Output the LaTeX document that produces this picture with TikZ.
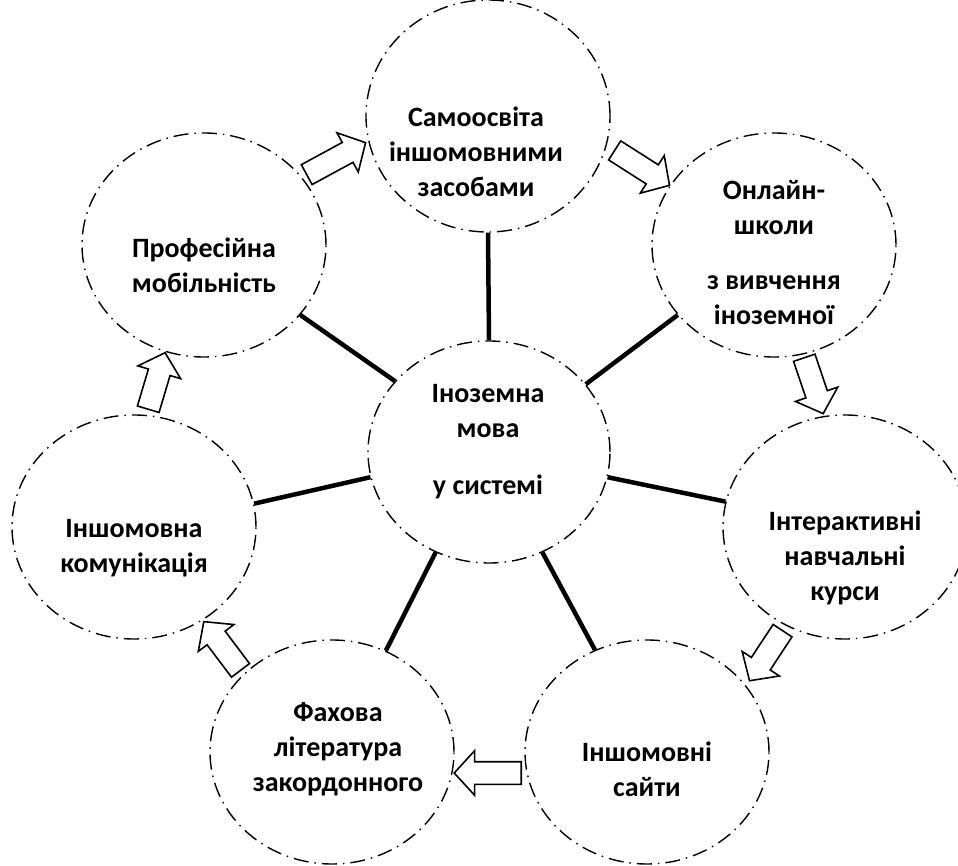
\documentclass[tikz,border=0pt]{standalone}
\usepackage{fontspec}
\setmainfont{Carlito}
\usetikzlibrary{shapes.geometric,shapes.arrows}
\begin{document}
\begin{tikzpicture}[x=1pt,y=-1pt,
  ell/.style={ellipse, draw, line width=1.4pt, dash pattern=on 15pt off 6pt on 1.5pt off 6pt, minimum width=244pt, minimum height=224pt, inner sep=0pt},
  lbl/.style={align=center, font=\fontsize{28}{35}\selectfont\bfseries, inner sep=0pt},
  link/.style={line width=4.5pt},
  barrow/.style={single arrow, draw, line width=1.6pt, inner sep=10.5pt, single arrow head extend=11pt, single arrow tip angle=95, anchor=tail}
]
\useasboundingbox (0,0) rectangle (958,866);
% ellipses
\node[ell, minimum height=232pt] (t) at (488,116) {};
\node[ell] (p) at (204,245) {};
\node[ell] (o) at (774,245) {};
\node[ell] (i) at (845,527) {};
\node[ell] (s) at (647,752) {};
\node[ell] (f) at (332,752) {};
\node[ell] (l) at (134,527) {};
\node[ell, minimum width=242pt, minimum height=222pt] (c) at (489,452) {};
% labels
\node[lbl] (tt) at (476,152) {Самоосвіта\\іншомовними\\засобами};
\node[lbl] (pt) at (204,265) {Професійна\\мобільність};
\node[lbl] (ot) at (774,253) {Онлайн-\\школи\\[20pt]з вивчення\\іноземної};
\node[lbl] (ct) at (488,442) {Іноземна\\мова\\[22pt]у системі};
\node[lbl] (lt) at (134,548) {Іншомовна\\комунікація};
\node[lbl] (it) at (845,558) {Інтерактивні\\навчальні\\курси};
\node[lbl] (st) at (647,769) {Іншомовні\\сайти};
\node[lbl] (ft) at (338,749) {Фахова\\література\\закордонного};
% links
\draw[link] (c.90) -- (t.270);
\draw[link] (c.143.9) -- (p.324.7);
\draw[link] (c.35.7) -- (o.216.1);
\draw[link] (c.348.1) -- (i.168.2);
\draw[link] (c.298.1) -- (s.117.9);
\draw[link] (c.242.5) -- (f.62.1);
\draw[link] (c.192.5) -- (l.11.9);
% block arrows
\node[barrow, rotate=28.5, minimum height=67pt] (a1) at (306,175) {};
\node[barrow, rotate=-32.5, minimum height=65pt] (a2) at (614,150) {};
\node[barrow, rotate=-71.3, minimum height=59pt] (a3) at (804,357) {};
\node[barrow, rotate=-123.4, minimum height=60pt] (a4) at (783,630) {};
\node[barrow, rotate=180, minimum height=67pt] (a5) at (522,773) {};
\node[barrow, rotate=127, minimum height=61pt] (a6) at (241,671) {};
\node[barrow, rotate=73.4, minimum height=59pt] (a7) at (148,410) {};
\end{tikzpicture}
\end{document}
